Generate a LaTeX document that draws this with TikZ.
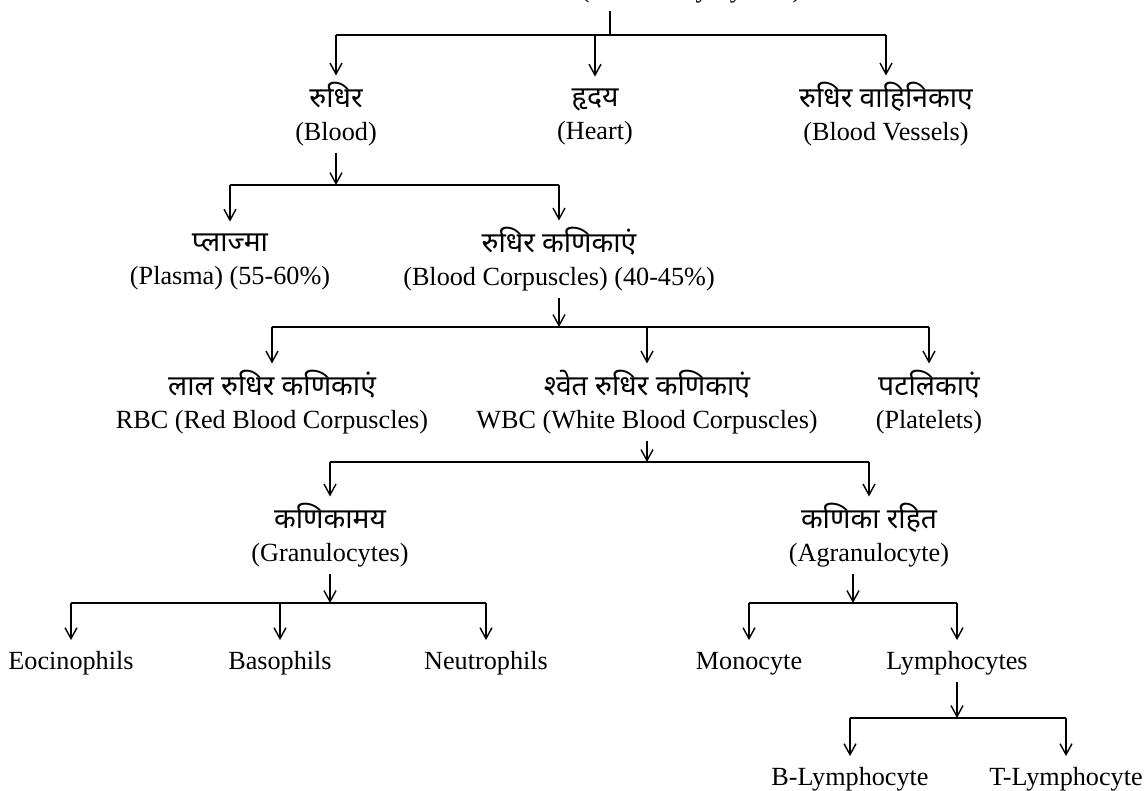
\documentclass[tikz,border=0pt]{standalone}
\usepackage{fontspec}
\setmainfont{Liberation Serif}
\newfontfamily\hindi[Script=Devanagari,Scale=1.08]{Noto Sans}
\usetikzlibrary{arrows.meta}

% one Hindi line and one English line, each with a strut
\newcommand\hl[1]{{\hindi\strut#1}}
\newcommand\el[1]{\strut#1}

\tikzset{
  lbl/.style={align=center, inner sep=0pt, font=\fontsize{13.1}{16.5}\selectfont},
  bar/.style={black, line width=1pt},
  stem/.style={black, line width=0.7pt},
  arr/.style={black, line width=0.7pt, -{Straight Barb[length=5.5pt,width=6pt]}},
}

\begin{document}
\begin{tikzpicture}[x=0.5pt,y=-0.5pt]
\useasboundingbox (0,0) rectangle (1145,791);
\clip (0,0) rectangle (1145,791);

% title, cut at the top of the page
\node[lbl, anchor=base] (top) at (691,-2.5) {(Circulatory System)};

% level 1
\node[lbl] (blood) at (336,116) {\hl{रुधिर}\\\el{(Blood)}};
\node[lbl] (heart) at (595,116) {\hl{हृदय}\\\el{(Heart)}};
\node[lbl] (vessels) at (886,116) {\hl{रुधिर वाहिनिकाए}\\\el{(Blood Vessels)}};

% level 2
\node[lbl] (plasma) at (230,261) {\hl{प्लाज्मा}\\\el{(Plasma) (55-60\%)}};
\node[lbl] (corpus) at (559,261) {\hl{रुधिर कणिकाएं}\\\el{(Blood Corpuscles) (40-45\%)}};

% level 3
\node[lbl] (rbc) at (272,404) {\hl{लाल रुधिर कणिकाएं}\\\el{RBC (Red Blood Corpuscles)}};
\node[lbl] (wbc) at (647,404) {\hl{श्वेत रुधिर कणिकाएं}\\\el{WBC (White Blood Corpuscles)}};
\node[lbl] (plate) at (929,404) {\hl{पटलिकाएं}\\\el{(Platelets)}};

% level 4
\node[lbl] (gran) at (330,537) {\hl{कणिकामय}\\\el{(Granulocytes)}};
\node[lbl] (agran) at (869,537) {\hl{कणिका रहित}\\\el{(Agranulocyte)}};

% level 5
\node[lbl] (eos) at (71,663) {\el{Eocinophils}};
\node[lbl] (baso) at (280,663) {\el{Basophils}};
\node[lbl] (neut) at (486,663) {\el{Neutrophils}};
\node[lbl] (mono) at (749,663) {\el{Monocyte}};
\node[lbl] (lymph) at (957,663) {\el{Lymphocytes}};

% level 6
\node[lbl] (bl) at (850,779) {\el{B-Lymphocyte}};
\node[lbl] (tl) at (1066,779) {\el{T-Lymphocyte}};

% branch points
\coordinate (j1) at (610,35);
\coordinate (j2) at (336,185);
\coordinate (j3) at (559,327);
\coordinate (j4) at (647,462);
\coordinate (j5) at (330,603);
\coordinate (j6) at (853,603);
\coordinate (j7) at (957,718);

% connectors
\draw[stem] ([yshift=-3.5pt]top.south -| j1) -- (j1);
\draw[bar] (blood |- j1) -- (vessels |- j1);
\foreach \n in {blood,heart,vessels}
  \draw[arr] (\n |- j1) -- ([yshift=3pt]\n.north);

\draw[arr] ([yshift=-1pt]blood.south) -- (j2);
\draw[bar] (plasma |- j2) -- (corpus |- j2);
\foreach \n in {plasma,corpus}
  \draw[arr] (\n |- j2) -- ([yshift=3pt]\n.north);

\draw[arr] ([yshift=-1pt]corpus.south) -- (j3);
\draw[bar] (rbc |- j3) -- (plate |- j3);
\foreach \n in {rbc,wbc,plate}
  \draw[arr] (\n |- j3) -- ([yshift=3pt]\n.north);

\draw[arr] ([yshift=-1pt]wbc.south) -- (j4);
\draw[bar] (gran |- j4) -- (agran |- j4);
\foreach \n in {gran,agran}
  \draw[arr] (\n |- j4) -- ([yshift=3pt]\n.north);

\draw[arr] ([yshift=-1pt]gran.south) -- (j5);
\draw[bar] (eos |- j5) -- (neut |- j5);
\foreach \n in {eos,baso,neut}
  \draw[arr] (\n |- j5) -- ([yshift=3pt]\n.north);

\draw[arr] ([yshift=-1pt]agran.south -| j6) -- (j6);
\draw[bar] (mono |- j6) -- (lymph |- j6);
\foreach \n in {mono,lymph}
  \draw[arr] (\n |- j6) -- ([yshift=3pt]\n.north);

\draw[arr] ([yshift=-1pt]lymph.south) -- (j7);
\draw[bar] (bl |- j7) -- (tl |- j7);
\foreach \n in {bl,tl}
  \draw[arr] (\n |- j7) -- ([yshift=3pt]\n.north);
\end{tikzpicture}
\end{document}
